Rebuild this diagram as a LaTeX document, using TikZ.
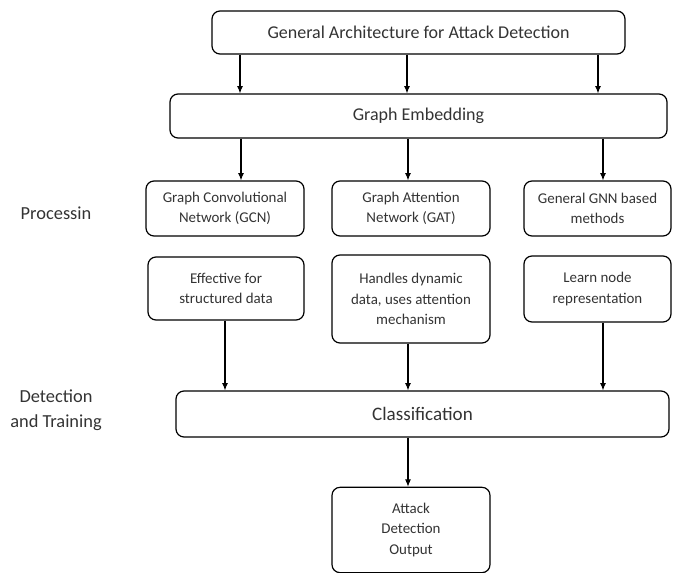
\documentclass[tikz,border=0pt]{standalone}
\usepackage{fontspec}
\setmainfont{Carlito}
\usetikzlibrary{arrows.meta}
\begin{document}
\begin{tikzpicture}[x=0.75pt,y=-0.75pt,
		box/.style={draw,line width=0.9pt,rounded corners=6pt,align=center,inner sep=2pt,text=black!80},
		arr/.style={line width=0.8pt,-{Latex[length=5.5pt,width=4.5pt]}},
		big/.style={font=\fontsize{13.5}{16}\selectfont},
		small/.style={font=\fontsize{11.2}{15.5}\selectfont}]
		\useasboundingbox (0,0) rectangle (676,573);
		\node[box,big,minimum width=309.75pt,minimum height=32.25pt] (top) at (418.5,32.5) {General Architecture for Attack Detection};
		\node[box,big,minimum width=372.75pt,minimum height=33pt] (embed) at (418.5,116) {Graph Embedding};
		\node[box,small,minimum width=118.5pt,minimum height=41.25pt] (gcn) at (225,208.5) {Graph Convolutional\\Network (GCN)};
		\node[box,small,minimum width=118.5pt,minimum height=41.25pt] (gat) at (411,208.5) {Graph Attention\\Network (GAT)};
		\node[box,small,minimum width=110.25pt,minimum height=41.25pt] (gnn) at (597.5,208.5) {General GNN based\\methods};
		\node[box,small,minimum width=117pt,minimum height=47.25pt] (eff) at (226,288.5) {Effective for\\structured data};
		\node[box,small,minimum width=118.5pt,minimum height=66pt] (hand) at (411,299) {Handles dynamic\\data, uses attention\\mechanism};
		\node[box,small,minimum width=110.25pt,minimum height=49.5pt] (learn) at (597.5,289) {Learn node\\representation};
		\node[box,font=\fontsize{14.3}{17}\selectfont,minimum width=369.75pt,minimum height=34.5pt] (cls) at (422.5,414) {Classification};
		\node[box,small,minimum width=118.5pt,minimum height=64pt] (out) at (411,530) {Attack\\Detection\\Output};
		\node[text=black!80,font=\fontsize{13.8}{19}\selectfont] (proc) at (56,213) {Processin};
		\node[text=black!80,font=\fontsize{13.8}{19}\selectfont,align=center] (det) at (56,410) {Detection\\and Training};
		% arrows
		\foreach \x in {240,407,598}
			\draw[arr] (top.south -| \x,0) -- (embed.north -| \x,0);
		\foreach \x in {241,408,603}
			\draw[arr] (embed.south -| \x,0) -- (gcn.north -| \x,0);
		\draw[arr] (eff.south -| 225,0) -- (cls.north -| 225,0);
		\draw[arr] (hand.south -| 408,0) -- (cls.north -| 408,0);
		\draw[arr] (learn.south -| 603,0) -- (cls.north -| 603,0);
		\draw[arr] (cls.south -| 408,0) -- (out.north -| 408,0);
\end{tikzpicture}
\end{document}
